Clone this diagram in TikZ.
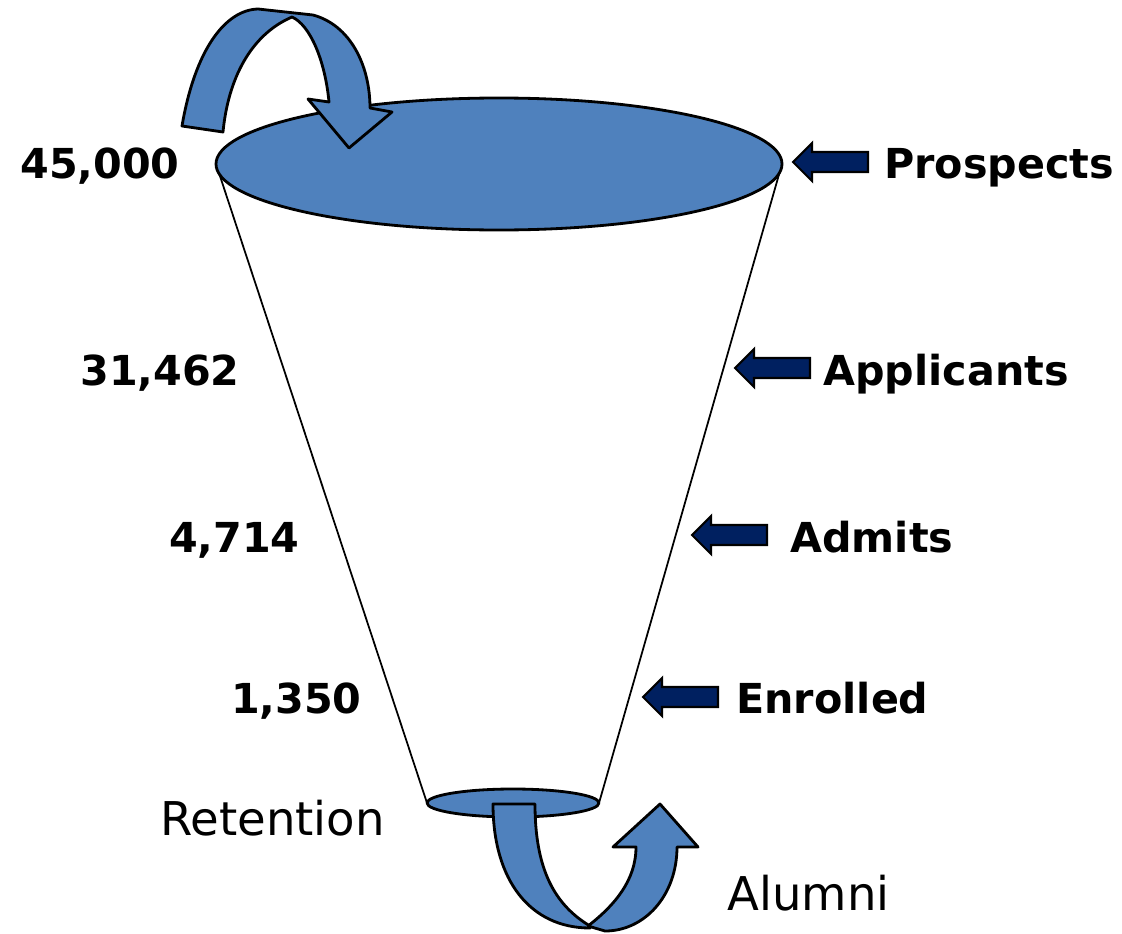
\documentclass[tikz,border=0pt]{standalone}
\usepackage{fontspec}
\setmainfont{DejaVu Sans}
\usepackage{xcolor}
\definecolor{funnelblue}{RGB}{79,129,189}
\definecolor{navy}{RGB}{0,32,96}

\begin{document}
\begin{tikzpicture}[x=0.02cm,y=-0.02cm,
  count/.style={font=\fontsize{23.5}{28}\selectfont\bfseries, inner sep=0pt, anchor=base east},
  stage/.style={font=\fontsize{23.5}{28}\selectfont\bfseries, inner sep=0pt, anchor=base west},
  flow/.style={font=\fontsize{26.5}{32}\selectfont, inner sep=0pt, anchor=base west},
  bluefill/.style={fill=funnelblue, draw=black, line width=1.6pt, line join=round},
  pointer/.pic={\draw[fill=navy, draw=black, line width=1.2pt, line join=miter]
     (0,0) -- (19,-19) -- (19,-10) -- (75,-10) -- (75,10) -- (19,10) -- (19,19) -- cycle;}]
  \useasboundingbox (0,0) rectangle (1122,933);

  % funnel body
  \draw[fill=white, line width=1pt] (216,164) -- (427,803) -- (599,803) -- (782,164);
  \draw[bluefill] (499,164) ellipse [x radius=283, y radius=66];
  \draw[bluefill] (513,803) ellipse [x radius=86, y radius=14];

  % curved arrow at the top
  \draw[bluefill] (182,126) .. controls (195,50) and (225,10) .. (258,9) -- (313,15)
     .. controls (350,25) and (370,65) .. (370,108) -- (392,112) -- (349,148) -- (308,99)
     -- (329,102) .. controls (325,60) and (310,25) .. (292,17)
     .. controls (250,35) and (228,80) .. (223,132) -- cycle;

  % curved arrow at the bottom
  \draw[bluefill] (493,804) -- (535,804) .. controls (535,870) and (555,905) .. (590,926)
     -- (590,928) .. controls (530,928) and (493,880) .. (493,804) -- cycle;
  \draw[bluefill] (588,926) .. controls (615,905) and (636,880) .. (636,847) -- (613,847)
     -- (660,804) -- (698,847) -- (677,847) .. controls (677,895) and (645,931) .. (605,931)
     -- cycle;

  % counts
  \node[count] (prospectsN) at (180,178) {45,000};
  \node[count] (applicantsN) at (240,385) {31,462};
  \node[count] (admitsN) at (300,552) {4,714};
  \node[count] (enrolledN) at (362,713) {1,350};

  % stages
  \node[stage] (prospects) at (884,178) {Prospects};
  \node[stage] (applicants) at (823,385) {Applicants};
  \node[stage] (admits) at (790,552) {Admits};
  \node[stage] (enrolled) at (736,713) {Enrolled};
  \pic at (793,162) {pointer};
  \pic at (735,368) {pointer};
  \pic at (692,535) {pointer};
  \pic at (643,697) {pointer};

  \node[flow] (retention) at (160,835) {Retention};
  \node[flow] (alumni) at (727,910) {Alumni};
\end{tikzpicture}
\end{document}
